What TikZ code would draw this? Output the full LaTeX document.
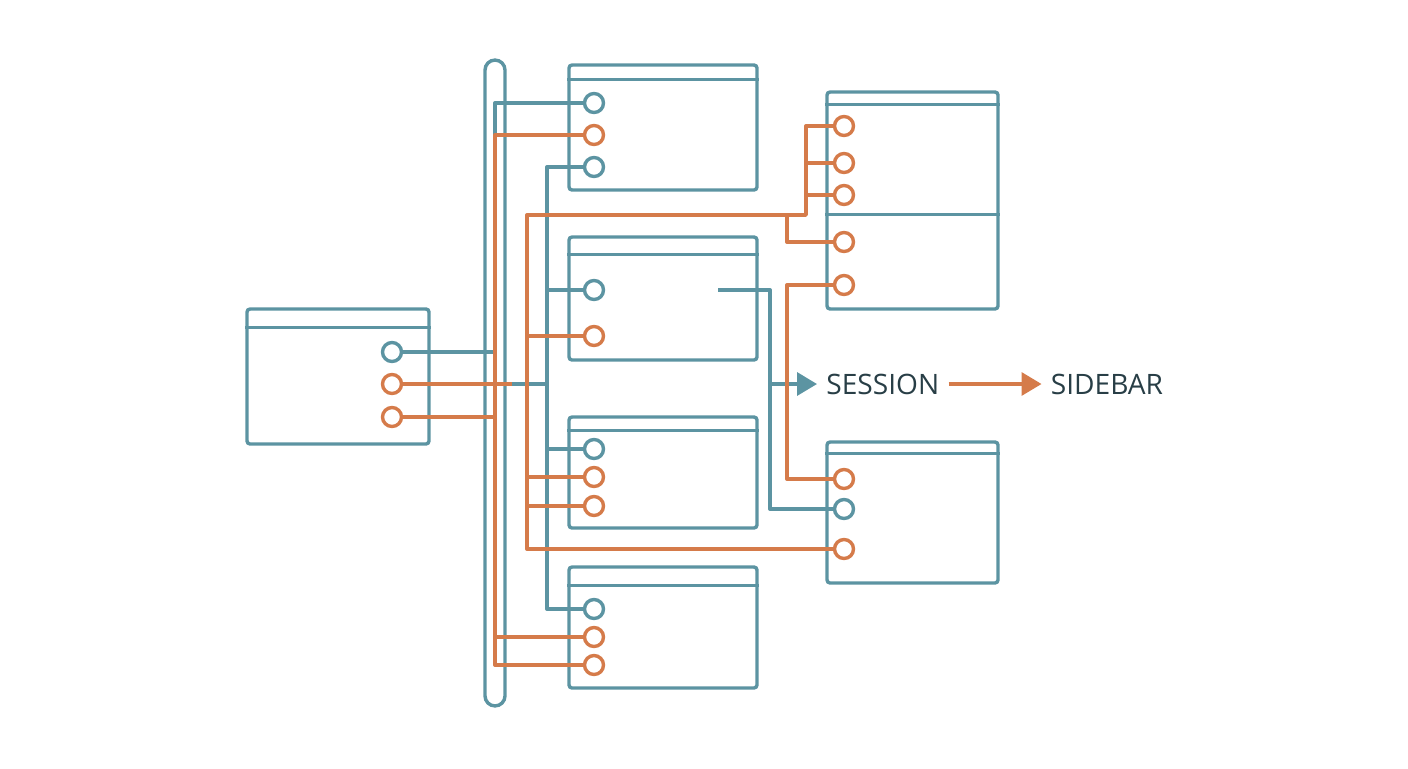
\documentclass[tikz,border=0pt]{standalone}
\usepackage{fontspec}
\setmainfont{Open Sans}
\usetikzlibrary{positioning,arrows.meta}

\definecolor{wireteal}{RGB}{92,148,162}
\definecolor{wireorange}{RGB}{213,123,74}
\definecolor{labeltext}{RGB}{40,62,70}

\tikzset{
  wire/.style={line width=0.068cm, line join=round},
  tealwire/.style={wire, draw=wireteal},
  orangewire/.style={wire, draw=wireorange},
  panel/.style={draw=wireteal, line width=0.068cm, rounded corners=0.06cm, inner sep=0, minimum width=3.76cm},
  port/.style={circle, line width=0.068cm, fill=white, inner sep=0, minimum size=0.38cm},
  tport/.style={port, draw=wireteal},
  oport/.style={port, draw=wireorange},
  tag/.style={text=labeltext, font=\fontsize{16}{19}\selectfont, inner xsep=0.18cm, inner ysep=0},
  tip/.style={-{Triangle[length=0.4cm, width=0.46cm]}}
}

\begin{document}
\begin{tikzpicture}[x=0.02cm, y=-0.02cm]
\useasboundingbox (0,0) rectangle (1408,768);

% bus and panels
\node (bus) [draw=wireteal, line width=0.068cm, rounded corners=0.2cm, minimum width=0.4cm, minimum height=12.92cm, inner sep=0] at (495,383) {};
\node (L) [panel, minimum width=3.64cm, minimum height=2.7cm] at (338,376.5) {};
\node (B1) [panel, minimum height=2.5cm] at (663,127.5) {};
\node (B2) [panel, minimum height=2.46cm] at (663,298.5) {};
\node (B3) [panel, minimum height=2.22cm] at (663,472.5) {};
\node (B4) [panel, minimum height=2.42cm] at (663,627.5) {};
\node (R1) [panel, minimum width=3.42cm, minimum height=4.34cm] at (912.5,200.5) {};
\node (R2) [panel, minimum width=3.42cm, minimum height=2.82cm] at (912.5,512.5) {};

\foreach \b/\h in {L/20,B1/16,B2/19,B3/15,B4/20,R1/14,R2/13}
  \draw[tealwire] ([yshift=-\h*0.02cm]\b.north west) -- ([yshift=-\h*0.02cm]\b.north east);
\draw[tealwire] ([yshift=-124*0.02cm]R1.north west) -- ([yshift=-124*0.02cm]R1.north east);

% ports
\node (lt) [tport] at (392,352) {};
\node (lo1) [oport] at (392,384) {};
\node (lo2) [oport] at (392,417) {};
\node (a1) [tport] at (594,103) {};
\node (a2) [oport] at (594,135) {};
\node (a3) [tport] at (594,167) {};
\node (b1) [tport] at (594,290) {};
\node (b2) [oport] at (594,336) {};
\node (c1) [tport] at (594,449) {};
\node (c2) [oport] at (594,477) {};
\node (c3) [oport] at (594,506) {};
\node (d1) [tport] at (594,609) {};
\node (d2) [oport] at (594,637) {};
\node (d3) [oport] at (594,665) {};
\foreach \n/\y in {r1/126,r2/163,r3/195,r4/242,r5/285}
  \node (\n) [oport] at (844,\y) {};
\node (s1) [oport] at (844,479) {};
\node (s2) [tport] at (844,509) {};
\node (s3) [oport] at (844,549) {};

% labels
\node (session) [tag, anchor=west] at (817,384) {SESSION};
\node (sidebar) [tag, right=1.86cm of session] {SIDEBAR};

% teal wires
\coordinate (tt) at (547,167);
\coordinate (mix) at (512,384);
\coordinate (sx) at (718,290);
\coordinate (sj) at (770,290);
\draw[tealwire] (lt) -- (bus.center |- lt) -- (bus.center |- a1) -- (a1);
\draw[tealwire] (a3) -- (tt) -- (tt |- d1) -- (d1);
\draw[tealwire] (b1) -- (tt |- b1);
\draw[tealwire] (c1) -- (tt |- c1);
\draw[tealwire] (mix) -- (tt |- mix);
\draw[tealwire] (sx) -- (sj) |- (s2);
\draw[tealwire, tip] (sj |- session) -- (session);

% orange wires
\coordinate (ot) at (527,215);
\coordinate (rj) at (806,215);
\coordinate (rk) at (787,215);
\draw[orangewire] (a2) -| (bus.center |- d3) -- (d3);
\draw[orangewire] (lo2) -- (bus.center |- lo2);
\draw[orangewire] (d2) -- (bus.center |- d2);
\draw[orangewire] (lo1) -- (mix);
\draw[orangewire] (s3) -- (ot |- s3) -- (ot) -- (rj) |- (r1);
\draw[orangewire] (r2) -- (rj |- r2);
\draw[orangewire] (r3) -- (rj |- r3);
\draw[orangewire] (rk) |- (r4);
\draw[orangewire] (r5) -- (rk |- r5) -- (rk |- s1) -- (s1);
\draw[orangewire] (b2) -- (ot |- b2);
\draw[orangewire] (c2) -- (ot |- c2);
\draw[orangewire] (c3) -- (ot |- c3);
\draw[orangewire, tip] (session) -- (sidebar);
\end{tikzpicture}
\end{document}
